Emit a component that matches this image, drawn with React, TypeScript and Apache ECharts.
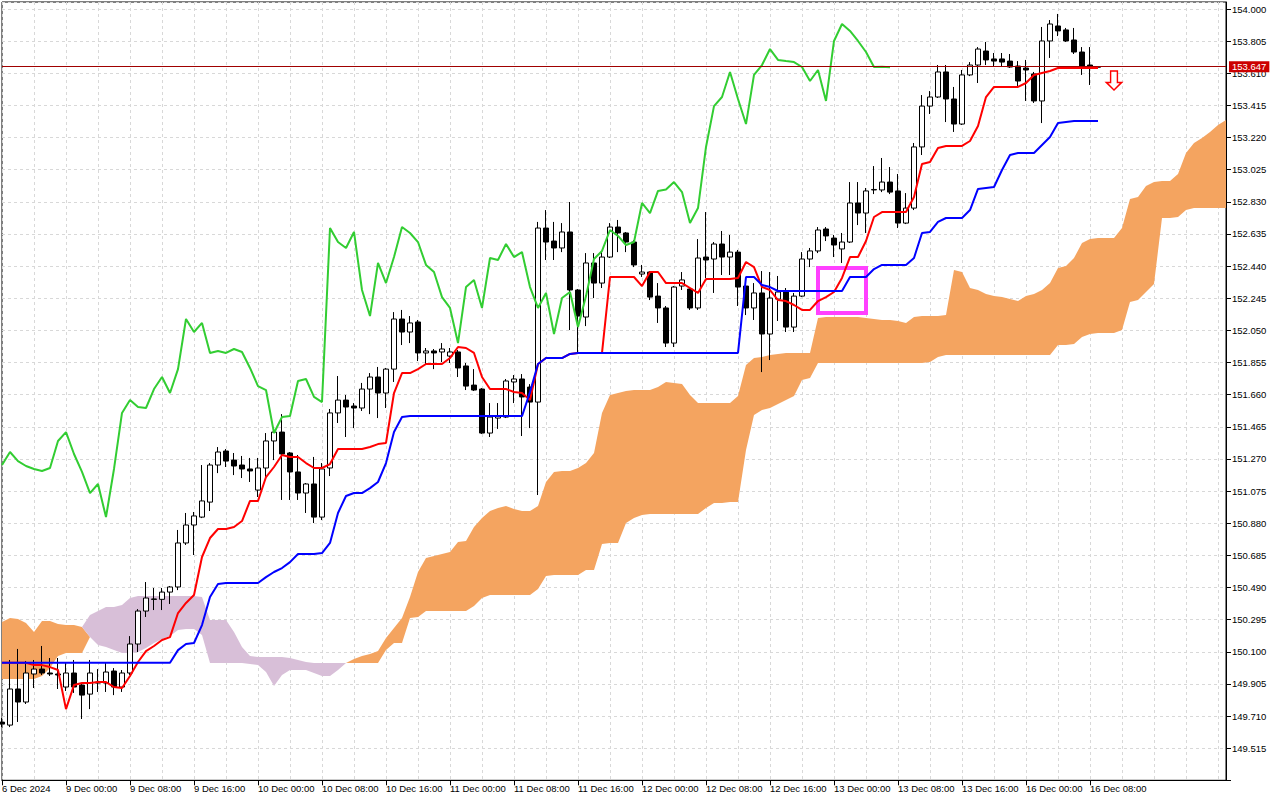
import React, { useEffect, useRef } from "react";
import * as echarts from "echarts";

// ---- Data ----
const xTickLabels = [
  "6 Dec 2024", "9 Dec 00:00", "9 Dec 08:00", "9 Dec 16:00", "10 Dec 00:00", "10 Dec 08:00",
  "10 Dec 16:00", "11 Dec 00:00", "11 Dec 08:00", "11 Dec 16:00", "12 Dec 00:00", "12 Dec 08:00",
  "12 Dec 16:00", "13 Dec 00:00", "13 Dec 08:00", "13 Dec 16:00", "16 Dec 00:00", "16 Dec 08:00",
];
const BAR_COUNT = 154; // visible bars incl. future cloud area
const LABEL_STEP = 8;
const GRID_STEP = 4;
const CHIKOU_SHIFT = 26;
const currentPrice = 153.647;
const yTickStart = 149.32;
const yTickStep = 0.195;
const yMax = 154.0425;

const opens = [
  149.673, 149.655, 149.874, 149.795, 149.965, 149.995, 149.971, 149.965, 149.886, 149.971,
  149.898, 149.843, 149.916, 149.910, 149.983, 149.886, 149.971, 150.147, 150.347, 150.420,
  150.418, 150.462, 150.493, 150.760, 150.869, 150.917, 151.008, 151.233, 151.318, 151.263,
  151.233, 151.209, 151.081, 151.215, 151.379, 151.433, 151.306, 151.191, 151.063, 151.118,
  150.917, 151.215, 151.549, 151.627, 151.591, 151.579, 151.694, 151.767, 151.670, 151.815,
  152.119, 152.040, 152.101, 151.913, 151.925, 151.919, 151.894, 151.919, 151.834, 151.718,
  151.694, 151.427, 151.518, 151.524, 151.737, 151.755, 151.706, 151.615, 152.671, 152.592,
  152.550, 152.647, 152.295, 152.131, 152.459, 152.337, 152.495, 152.677, 152.641, 152.586,
  152.392, 152.404, 152.258, 152.186, 151.973, 152.319, 152.301, 152.186, 152.495, 152.483,
  152.574, 152.495, 152.525, 152.319, 152.186, 152.277, 152.028, 152.240, 152.283, 152.070,
  152.258, 152.483, 152.532, 152.665, 152.610, 152.544, 152.586, 152.823, 152.762, 152.902,
  152.902, 152.950, 152.896, 152.701, 152.792, 153.163, 153.411, 153.466, 153.618, 153.454,
  153.302, 153.600, 153.660, 153.745, 153.697, 153.697, 153.684, 153.654, 153.642, 153.606,
  153.442, 153.806, 153.897, 153.873, 153.812, 153.739, 153.660, 153.650,
];
const highs = [
  149.698, 150.050, 150.117, 150.044, 150.050, 150.135, 150.062, 150.062, 150.032, 150.050,
  149.910, 150.050, 149.995, 150.032, 150.001, 149.989, 150.195, 150.359, 150.523, 150.487,
  150.487, 150.499, 150.839, 150.942, 150.948, 151.233, 151.245, 151.342, 151.330, 151.306,
  151.288, 151.276, 151.276, 151.427, 151.457, 151.542, 151.312, 151.294, 151.124, 151.282,
  151.245, 151.573, 151.773, 151.658, 151.609, 151.731, 151.791, 151.828, 151.822, 152.161,
  152.174, 152.137, 152.113, 151.943, 151.937, 151.973, 151.943, 151.931, 151.852, 151.815,
  151.700, 151.609, 151.609, 151.755, 151.779, 151.785, 151.724, 152.708, 152.780, 152.708,
  152.701, 152.829, 152.301, 152.519, 152.519, 152.525, 152.701, 152.720, 152.647, 152.598,
  152.447, 152.410, 152.337, 152.198, 152.319, 152.404, 152.313, 152.604, 152.768, 152.586,
  152.653, 152.629, 152.538, 152.374, 152.337, 152.410, 152.404, 152.380, 152.307, 152.277,
  152.525, 152.550, 152.677, 152.677, 152.629, 152.641, 152.950, 152.950, 152.914, 153.047,
  153.096, 153.041, 152.999, 152.883, 153.187, 153.478, 153.502, 153.660, 153.660, 153.527,
  153.630, 153.678, 153.769, 153.800, 153.733, 153.733, 153.727, 153.684, 153.691, 153.618,
  153.891, 153.933, 153.970, 153.885, 153.885, 153.769, 153.769, 153.652,
];
const lows = [
  149.643, 149.643, 149.674, 149.783, 149.880, 149.959, 149.953, 149.874, 149.862, 149.850,
  149.692, 149.752, 149.856, 149.856, 149.837, 149.856, 149.959, 150.098, 150.311, 150.353,
  150.353, 150.390, 150.474, 150.748, 150.687, 150.911, 150.954, 151.184, 151.221, 151.172,
  151.154, 151.130, 151.039, 151.154, 151.263, 151.021, 151.021, 151.021, 150.942, 150.881,
  150.899, 151.166, 151.488, 151.403, 151.457, 151.561, 151.542, 151.518, 151.579, 151.737,
  151.961, 151.973, 151.864, 151.840, 151.815, 151.858, 151.852, 151.767, 151.688, 151.682,
  151.421, 151.403, 151.452, 151.518, 151.609, 151.409, 151.457, 151.051, 152.477, 152.477,
  152.525, 152.052, 151.913, 152.076, 152.246, 152.307, 152.489, 152.525, 152.525, 152.434,
  152.374, 152.234, 152.095, 151.949, 151.949, 152.295, 152.174, 152.174, 152.368, 152.277,
  152.386, 152.386, 152.198, 152.143, 152.113, 151.797, 151.870, 152.107, 152.040, 152.040,
  152.252, 152.434, 152.519, 152.592, 152.495, 152.459, 152.580, 152.689, 152.641, 152.877,
  152.889, 152.877, 152.671, 152.695, 152.780, 153.114, 153.363, 153.460, 153.314, 153.254,
  153.296, 153.593, 153.551, 153.660, 153.654, 153.648, 153.642, 153.527, 153.442, 153.430,
  153.308, 153.703, 153.836, 153.800, 153.727, 153.600, 153.539, 153.645,
];
const closes = [
  149.661, 149.874, 149.795, 149.971, 149.995, 149.971, 149.965, 149.959, 149.971, 149.886,
  149.837, 149.971, 149.910, 149.977, 149.886, 149.971, 150.147, 150.347, 150.426, 150.418,
  150.462, 150.493, 150.760, 150.869, 150.924, 151.015, 151.233, 151.312, 151.257, 151.227,
  151.209, 151.197, 151.215, 151.379, 151.433, 151.300, 151.191, 151.063, 151.118, 150.917,
  151.209, 151.549, 151.627, 151.585, 151.579, 151.694, 151.767, 151.670, 151.815, 152.119,
  152.040, 152.095, 151.913, 151.925, 151.913, 151.937, 151.919, 151.822, 151.712, 151.688,
  151.427, 151.524, 151.530, 151.743, 151.755, 151.646, 151.615, 152.671, 152.586, 152.550,
  152.647, 152.295, 152.137, 152.459, 152.337, 152.495, 152.677, 152.641, 152.586, 152.447,
  152.404, 152.252, 152.186, 151.973, 152.313, 152.356, 152.186, 152.489, 152.477, 152.574,
  152.495, 152.525, 152.313, 152.186, 152.277, 152.028, 152.246, 152.283, 152.070, 152.258,
  152.483, 152.532, 152.659, 152.623, 152.568, 152.586, 152.823, 152.762, 152.896, 152.905,
  152.950, 152.889, 152.701, 152.792, 153.163, 153.411, 153.466, 153.618, 153.454, 153.302,
  153.600, 153.660, 153.757, 153.691, 153.684, 153.678, 153.648, 153.563, 153.630, 153.442,
  153.806, 153.909, 153.867, 153.806, 153.739, 153.648, 153.650, 153.647,
];
const tenkan = [
  150.033, 150.033, 150.033, 150.033, 150.019, 150.019, 150.007, 149.989, 149.752, 149.898,
  149.910, 149.910, 149.916, 149.916, 149.886, 149.880, 149.953, 150.038, 150.104, 150.135,
  150.171, 150.189, 150.335, 150.396, 150.444, 150.675, 150.790, 150.845, 150.845, 150.857,
  150.893, 151.015, 151.015, 151.160, 151.221, 151.294, 151.282, 151.282, 151.245, 151.215,
  151.215, 151.239, 151.330, 151.330, 151.330, 151.330, 151.342, 151.360, 151.367, 151.670,
  151.791, 151.791, 151.815, 151.846, 151.846, 151.846, 151.882, 151.949, 151.943, 151.913,
  151.767, 151.694, 151.694, 151.694, 151.676, 151.670, 151.627, 151.846, 151.882, 151.882,
  151.882, 151.907, 151.913, 151.913, 151.913, 151.913, 152.374, 152.374, 152.374, 152.374,
  152.319, 152.404, 152.404, 152.337, 152.337, 152.337, 152.307, 152.277, 152.362, 152.362,
  152.362, 152.362, 152.368, 152.465, 152.434, 152.313, 152.295, 152.234, 152.228, 152.204,
  152.174, 152.174, 152.228, 152.252, 152.283, 152.368, 152.495, 152.495, 152.592, 152.738,
  152.768, 152.768, 152.768, 152.768, 152.859, 153.060, 153.072, 153.157, 153.169, 153.169,
  153.169, 153.199, 153.290, 153.466, 153.527, 153.527, 153.527, 153.527, 153.551, 153.600,
  153.612, 153.624, 153.642, 153.642, 153.642, 153.642, 153.642, 153.642,
];
const kijun = [
  150.033, 150.033, 150.033, 150.033, 150.033, 150.033, 150.033, 150.033, 150.033, 150.033,
  150.033, 150.033, 150.033, 150.033, 150.033, 150.033, 150.033, 150.033, 150.033, 150.033,
  150.033, 150.033, 150.110, 150.147, 150.153, 150.262, 150.432, 150.511, 150.517, 150.517,
  150.517, 150.517, 150.517, 150.553, 150.584, 150.608, 150.644, 150.693, 150.693, 150.693,
  150.699, 150.760, 150.942, 151.045, 151.063, 151.063, 151.093, 151.130, 151.245, 151.433,
  151.524, 151.530, 151.530, 151.530, 151.530, 151.530, 151.530, 151.530, 151.530, 151.530,
  151.530, 151.530, 151.530, 151.530, 151.530, 151.530, 151.676, 151.846, 151.882, 151.882,
  151.882, 151.907, 151.913, 151.913, 151.913, 151.913, 151.913, 151.913, 151.913, 151.913,
  151.913, 151.913, 151.913, 151.913, 151.913, 151.913, 151.913, 151.913, 151.913, 151.913,
  151.913, 151.913, 151.913, 152.374, 152.374, 152.325, 152.313, 152.289, 152.289, 152.289,
  152.289, 152.289, 152.289, 152.289, 152.289, 152.289, 152.374, 152.374, 152.374, 152.422,
  152.447, 152.447, 152.447, 152.447, 152.489, 152.641, 152.647, 152.708, 152.732, 152.732,
  152.732, 152.780, 152.908, 152.914, 152.920, 153.023, 153.114, 153.126, 153.126, 153.126,
  153.175, 153.223, 153.308, 153.314, 153.320, 153.320, 153.320, 153.320,
];
const spanA = [
  150.280, 150.305, 150.299, 150.274, 150.220, 150.286, 150.286, 150.268, 150.262, 150.262,
  150.250, 150.189, 150.141, 150.129, 150.110, 150.092, 150.092, 150.098, 150.123, 150.153,
  150.177, 150.195, 150.232, 150.238, 150.238, 150.201, 150.032, 150.032, 150.032, 150.032,
  150.032, 150.025, 150.019, 149.977, 149.892, 149.959, 149.989, 149.989, 149.989, 149.971,
  149.953, 149.953, 149.989, 150.032, 150.056, 150.074, 150.086, 150.104, 150.183, 150.244,
  150.305, 150.432, 150.584, 150.669, 150.681, 150.693, 150.705, 150.766, 150.772, 150.857,
  150.911, 150.954, 150.972, 150.984, 150.966, 150.954, 150.954, 150.984, 151.130, 151.190,
  151.197, 151.197, 151.215, 151.245, 151.306, 151.549, 151.658, 151.670, 151.682, 151.688,
  151.688, 151.688, 151.706, 151.737, 151.731, 151.725, 151.658, 151.609, 151.609, 151.609,
  151.609, 151.609, 151.652, 151.840, 151.882, 151.888, 151.900, 151.907, 151.913, 151.913,
  151.913, 151.913, 152.125, 152.131, 152.131, 152.131, 152.131, 152.131, 152.125, 152.119,
  152.113, 152.113, 152.107, 152.095, 152.131, 152.137, 152.137, 152.137, 152.143, 152.416,
  152.404, 152.307, 152.295, 152.271, 152.259, 152.252, 152.240, 152.228, 152.259, 152.271,
  152.295, 152.337, 152.428, 152.441, 152.489, 152.580, 152.604, 152.610, 152.610, 152.610,
  152.671, 152.847, 152.859, 152.926, 152.950, 152.956, 152.956, 152.999, 153.126, 153.187,
  153.217, 153.254, 153.296, 153.326,
];
const spanB = [
  149.934, 149.934, 149.934, 149.934, 149.934, 149.953, 150.001, 150.074, 150.092, 150.092,
  150.092, 150.323, 150.347, 150.371, 150.371, 150.383, 150.426, 150.438, 150.438, 150.438,
  150.438, 150.438, 150.438, 150.438, 150.438, 150.432, 150.292, 150.292, 150.292, 150.220,
  150.129, 150.074, 150.068, 150.068, 150.068, 150.068, 150.062, 150.050, 150.038, 150.032,
  150.032, 150.032, 150.032, 150.032, 150.032, 150.032, 150.032, 150.032, 150.110, 150.153,
  150.153, 150.305, 150.311, 150.347, 150.347, 150.347, 150.347, 150.347, 150.347, 150.377,
  150.426, 150.444, 150.444, 150.444, 150.444, 150.444, 150.444, 150.481, 150.559, 150.566,
  150.566, 150.566, 150.566, 150.596, 150.596, 150.754, 150.760, 150.760, 150.881, 150.911,
  150.930, 150.936, 150.936, 150.936, 150.936, 150.936, 150.936, 150.936, 150.972, 151.002,
  151.002, 151.009, 151.009, 151.324, 151.536, 151.567, 151.579, 151.603, 151.627, 151.652,
  151.749, 151.761, 151.852, 151.852, 151.852, 151.852, 151.852, 151.852, 151.852, 151.852,
  151.852, 151.852, 151.852, 151.852, 151.852, 151.852, 151.858, 151.888, 151.900, 151.900,
  151.900, 151.900, 151.900, 151.900, 151.900, 151.900, 151.900, 151.900, 151.900, 151.900,
  151.900, 151.900, 151.961, 151.961, 151.967, 152.010, 152.028, 152.034, 152.034, 152.034,
  152.052, 152.222, 152.234, 152.283, 152.331, 152.732, 152.732, 152.738, 152.780, 152.793,
  152.793, 152.793, 152.793, 152.793,
];
// Annotations (data coordinates)
const boxBars = ["102", "108"];
const boxPrices = [152.428, 152.156];
const arrowBar = "139";
const arrowPrice = 153.566;

const FONT = '"Liberation Sans", Arial, sans-serif';
const FONT_SIZE = 9.5;
const GRID_COLOR = "#d8d8d8";

export default function App() {
  const ref = useRef<HTMLDivElement>(null);

  useEffect(() => {
    if (!ref.current) return;
    const chart = echarts.init(ref.current, null, { renderer: "svg" });
    const cats = Array.from({ length: BAR_COUNT }, (_, i) => String(i));
    const candles = opens.map((o, i) => [o, closes[i], lows[i], highs[i]]);
    const chikou = cats.map((_, i) =>
      i + CHIKOU_SHIFT < closes.length ? closes[i + CHIKOU_SHIFT] : null
    );
    const cloudBase = spanA.map((a, i) => Math.min(a, spanB[i]));
    const cloudUp = spanA.map((a, i) => Math.max(a - spanB[i], 0));
    const cloudDown = spanA.map((a, i) => Math.max(spanB[i] - a, 0));
    const isLabelTick = (i: number) => i % LABEL_STEP === 0 && i / LABEL_STEP < xTickLabels.length;

    chart.setOption({
      animation: false,
      backgroundColor: "#ffffff",
      textStyle: { fontFamily: FONT },
      grid: {
        left: 2,
        top: 2,
        width: 1224,
        height: 778.3,
        containLabel: false,
        outerBoundsMode: "none",
        show: true,
        borderColor: "#000",
        borderWidth: 1,
        backgroundColor: "#fff",
      },
      xAxis: {
        type: "category",
        data: cats,
        boundaryGap: false,
        axisLine: { show: true, lineStyle: { color: "#000", width: 1 } },
        axisTick: { show: true, interval: (i: number) => isLabelTick(i), length: 5, lineStyle: { color: "#000" } },
        axisLabel: {
          interval: (i: number) => isLabelTick(i),
          formatter: (_v: string, i: number) => (isLabelTick(i) ? xTickLabels[i / LABEL_STEP] : ""),
          align: "left",
          margin: 3,
          color: "#000",
          fontFamily: FONT,
          fontSize: FONT_SIZE,
        },
        splitLine: {
          show: true,
          interval: (i: number) => i % GRID_STEP === 0,
          lineStyle: { color: GRID_COLOR, type: [3, 3], width: 1 },
        },
      },
      yAxis: {
        type: "value",
        position: "right",
        min: yTickStart,
        max: yMax,
        interval: yTickStep,
        scale: true,
        axisLine: { show: true, lineStyle: { color: "#000", width: 1 } },
        axisTick: { show: true, length: 5, lineStyle: { color: "#000" } },
        axisLabel: {
          formatter: (v: number) => (v < yTickStart + yTickStep / 2 ? "" : v.toFixed(3)),
          margin: 6,
          color: "#000",
          fontFamily: FONT,
          fontSize: FONT_SIZE,
        },
        splitLine: { show: true, lineStyle: { color: GRID_COLOR, type: [3, 3], width: 1 } },
      },
      series: [
        {
          name: "cloudBase",
          type: "line",
          data: cloudBase,
          stack: "cloud",
          symbol: "none",
          lineStyle: { width: 0, opacity: 0 },
          silent: true,
          z: 1,
        },
        {
          name: "cloudUp",
          type: "line",
          data: cloudUp,
          stack: "cloud",
          symbol: "none",
          lineStyle: { width: 0, opacity: 0 },
          areaStyle: { color: "#f4a460", opacity: 1 },
          silent: true,
          z: 1,
        },
        {
          name: "cloudDown",
          type: "line",
          data: cloudDown,
          stack: "cloud",
          symbol: "none",
          lineStyle: { width: 0, opacity: 0 },
          areaStyle: { color: "#d8bfd8", opacity: 1 },
          silent: true,
          z: 1,
        },
        {
          name: "price",
          type: "candlestick",
          data: candles,
          barWidth: 5,
          clip: true,
          z: 3,
          itemStyle: {
            color: "#ffffff",
            color0: "#000000",
            borderColor: "#000000",
            borderColor0: "#000000",
            borderWidth: 1,
          },
          markLine: {
            silent: true,
            symbol: "none",
            animation: false,
            lineStyle: { color: "#a00000", width: 1, type: "solid" },
            label: {
              show: true,
              position: "end",
              distance: 3,
              formatter: currentPrice.toFixed(3),
              backgroundColor: "#cc0000",
              color: "#ffffff",
              padding: [1, 3, 0, 3],
              fontFamily: FONT,
              fontSize: FONT_SIZE,
            },
            data: [{ yAxis: currentPrice }],
          },
          markArea: {
            silent: true,
            itemStyle: { color: "rgba(0,0,0,0)", borderColor: "#ff40ff", borderWidth: 4 },
            data: [[{ xAxis: boxBars[0], yAxis: boxPrices[0] }, { xAxis: boxBars[1], yAxis: boxPrices[1] }]],
          },
          markPoint: {
            silent: true,
            label: { show: false },
            data: [
              {
                coord: [arrowBar, arrowPrice],
                symbol: "path://M5,0L13,0L13,12L18,12L9,20L0,12L5,12Z",
                symbolSize: [17, 19],
                symbolKeepAspect: true,
                itemStyle: { color: "#ffffff", borderColor: "#ff0000", borderWidth: 1.5 },
              },
            ],
          },
        },
        {
          name: "Tenkan",
          type: "line",
          data: tenkan,
          symbol: "none",
          lineStyle: { color: "#ff0000", width: 2 },
          z: 4,
        },
        {
          name: "Kijun",
          type: "line",
          data: kijun,
          symbol: "none",
          lineStyle: { color: "#0000ff", width: 2 },
          z: 4,
        },
        {
          name: "Chikou",
          type: "line",
          data: chikou,
          symbol: "none",
          connectNulls: false,
          lineStyle: { color: "#32cd32", width: 2 },
          z: 4,
        },
      ],
    });

    return () => chart.dispose();
  }, []);

  return (
    <div
      ref={ref}
      style={{ position: "fixed", left: 0, top: 0, width: 1280, height: 800, background: "#fff" }}
    />
  );
}
